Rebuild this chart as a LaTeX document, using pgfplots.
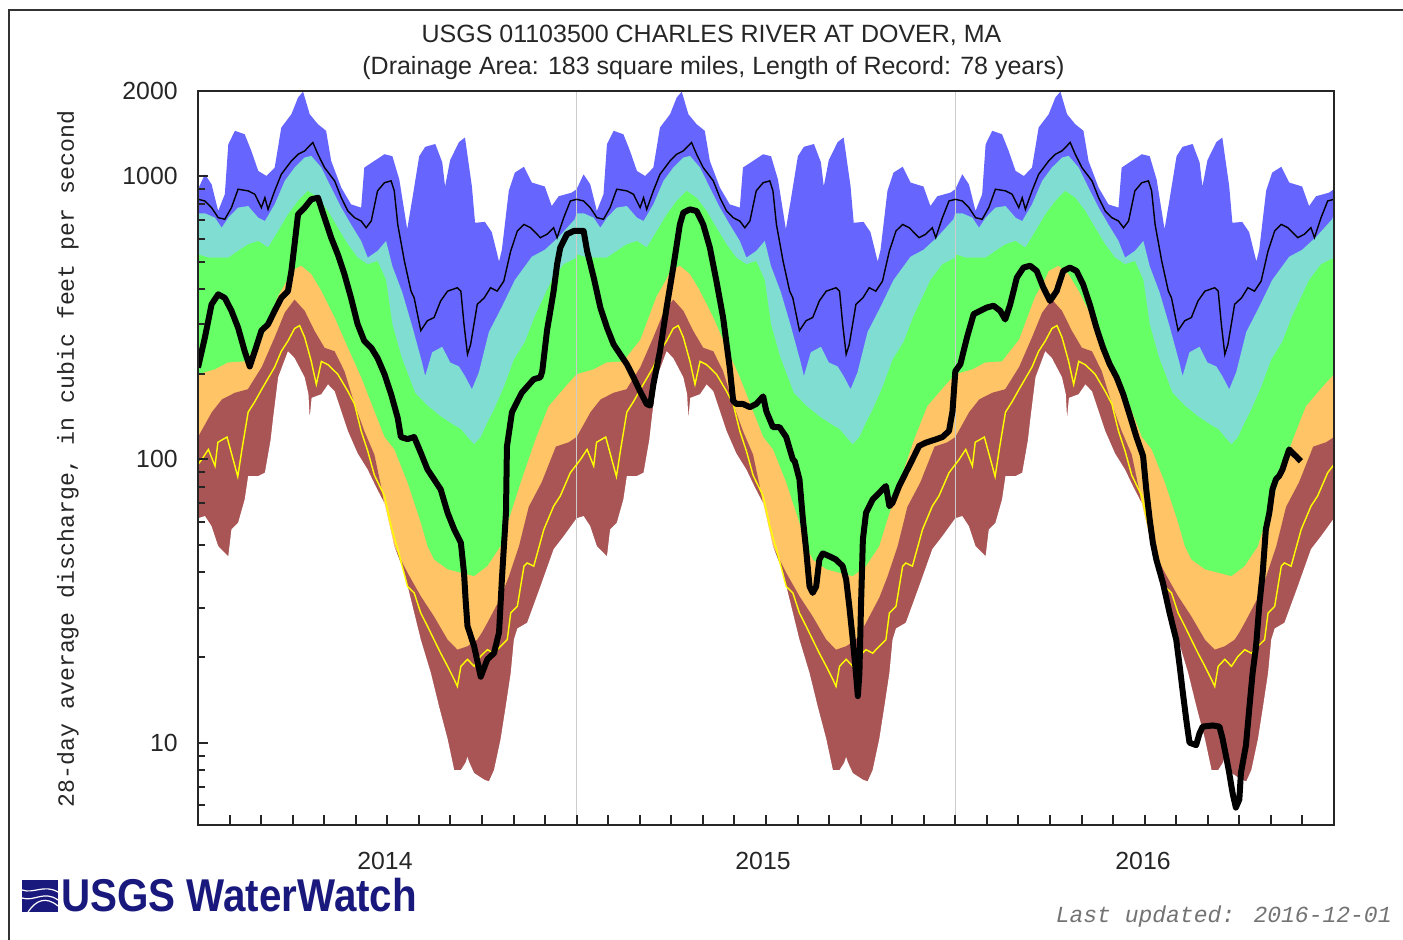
\documentclass[border=0pt]{standalone}
\usepackage{fontspec}
\setmainfont{Liberation Sans}
\newfontfamily\mono{Liberation Mono}
\usepackage{graphicx}
\usepackage{pgfplots}
\usepackage{pgfplotstable}
\pgfplotsset{compat=1.18}

\definecolor{cmax}{RGB}{102,102,255}
\definecolor{c90}{RGB}{128,221,210}
\definecolor{c75}{RGB}{102,255,102}
\definecolor{c25}{RGB}{255,196,102}
\definecolor{c10}{RGB}{170,85,85}
\definecolor{yel}{RGB}{255,255,0}
\definecolor{navy}{RGB}{25,25,125}

% daily statistics, one year (m = month of year), repeated each year
\pgfplotstableread{
m v
0.00 900
0.22 1016
0.43 937
0.64 754
0.85 864
0.96 1297
1.17 1447
1.48 1407
1.69 1229
1.91 1044
2.17 1002
2.43 1073
2.64 1486
2.96 1656
3.17 1897
3.33 1990
3.54 1656
3.80 1527
4.06 1447
4.22 1133
4.54 912
4.85 796
5.17 775
5.27 1073
5.59 1133
5.91 1196
6.16 1177
6.38 973
6.63 650
6.79 830
7.01 1177
7.20 1270
7.52 1300
7.74 1120
7.83 920
7.99 1140
8.27 1320
8.46 1370
8.68 920
8.78 685
9.09 690
9.31 635
9.54 500
9.63 550
9.85 890
10.04 1030
10.33 1080
10.58 950
10.99 920
11.21 785
11.43 850
11.84 875
12.00 900
}\tmax

\pgfplotstableread{
m v
0.00 740
0.22 740
0.54 714
0.75 658
0.96 714
1.27 775
1.59 785
1.91 714
2.12 695
2.43 796
2.75 963
3.06 1073
3.38 1164
3.59 1180
3.91 1073
4.22 912
4.54 775
4.85 676
5.17 591
5.38 516
5.69 545
5.96 591
6.16 481
6.47 390
6.79 295
7.10 220
7.20 197
7.42 239
7.74 250
7.99 220
8.27 213
8.46 197
8.68 177
8.90 203
9.22 282
9.63 346
10.04 430
10.58 520
10.99 550
11.43 610
11.94 705
12.00 740
}\tninety

\pgfplotstableread{
m v
0.00 530
0.33 516
0.64 516
0.96 516
1.27 545
1.59 575
1.91 591
2.22 560
2.54 641
2.85 733
3.17 818
3.48 888
3.80 840
4.12 754
4.43 658
4.75 575
5.06 516
5.38 489
5.69 502
5.96 430
6.16 300
6.45 230
6.88 172
7.27 155
7.69 142
8.12 132
8.33 128
8.54 120
8.75 113
8.96 120
9.17 135
9.38 150
9.69 180
10.01 225
10.36 260
10.67 320
11.21 430
11.59 489
12.00 516
}\tsevfive

\pgfplotstableread{
m v
0.00 200
0.54 208
0.95 220
1.48 222
2.02 265
2.53 376
2.84 432
2.96 463
3.27 483
3.59 451
3.91 393
4.33 317
4.75 248
5.17 195
5.59 148
5.91 120
6.22 108.5
6.64 82.8
7.06 59.7
7.27 49.4
7.48 44.3
7.91 40.9
8.33 39.8
8.75 38.7
9.17 42.0
9.59 49.4
9.85 61.4
10.26 85
10.70 118
11.11 154
11.65 181
12.00 200
}\ttwofive

\pgfplotstableread{
m v
0.00 120
0.44 147
0.76 163
1.17 172
1.58 177
2.02 212
2.43 270
2.75 330
3.06 367
3.38 335
3.69 285
4.01 248
4.33 241
4.64 205
4.96 157
5.27 126
5.59 104
5.80 80.6
6.01 59.7
6.22 49.4
6.43 44.3
6.64 39.8
7.06 32.9
7.48 27.9
7.91 23.1
8.22 21.3
8.54 21.9
8.85 23.1
9.00 24.5
9.17 26.5
9.59 32.5
9.85 38.6
10.17 49.3
10.48 68
10.89 83
11.34 111
11.75 115
12.00 120
}\tten

\pgfplotstableread{
m v
0.00 62
0.22 63.1
0.43 58.1
0.64 49.4
0.96 45.5
1.06 56.6
1.27 59.7
1.48 72.2
1.59 87.4
1.91 87.4
2.12 89.8
2.30 117
2.38 140
2.54 195
2.85 241
3.06 228
3.38 195
3.50 170
3.54 140
3.60 165
3.91 170
4.12 184
4.33 174
4.75 126
5.06 105
5.38 92
5.64 80
5.91 70
6.22 49.4
6.54 39.8
6.80 30.3
7.06 23.1
7.38 17.6
7.64 13.4
7.91 10.3
8.12 8.0
8.33 8.0
8.48 8.5
8.54 8.9
8.60 8.5
8.75 7.81
9.07 7.4
9.22 7.3
9.38 8.0
9.59 10.3
9.75 13.4
9.91 17.6
10.01 23.1
10.12 25.3
10.43 26.5
10.85 35.6
11.27 48.2
11.59 53.6
12.00 62
}\tmin

\pgfplotstableread{
m v
0.00 829
0.22 818
0.43 775
0.64 714
0.85 705
1.06 775
1.27 900
1.59 888
1.80 864
2.01 775
2.12 840
2.22 764
2.43 888
2.64 1016
2.96 1133
3.17 1196
3.38 1229
3.64 1316
3.80 1196
4.01 1073
4.33 963
4.54 840
4.75 754
4.96 714
5.17 695
5.33 658
5.49 695
5.69 888
5.91 949
6.12 963
6.22 888
6.33 676
6.54 502
6.75 393
6.85 372
7.06 285
7.27 309
7.48 317
7.69 363
7.91 393
8.22 404
8.33 393
8.43 300
8.54 235
8.64 255
8.85 353
9.07 372
9.27 404
9.48 393
9.69 426
9.91 545
10.12 641
10.33 676
10.54 658
10.85 607
11.06 624
11.27 658
11.38 607
11.59 714
11.80 818
12.00 829
}\tmean

\pgfplotstableread{
m v
0.00 96
0.12 100
0.33 108.5
0.54 94.8
0.63 115
0.92 120
1.17 94.8
1.26 87
1.39 108
1.59 147
1.80 160
2.02 177
2.43 212
2.64 241
2.85 262
3.06 290
3.22 297
3.38 270
3.59 222
3.75 184
3.91 222
4.12 216
4.43 200
4.75 174
4.96 157
5.17 126
5.38 107
5.59 88
5.91 74.3
6.12 58.1
6.33 48.2
6.64 35.6
6.85 33.8
7.06 28.7
7.27 25.8
7.48 23.1
7.69 20.7
7.91 18.6
8.12 16.7
8.22 15.8
8.33 18.6
8.54 19.7
8.75 18.6
8.96 20.2
9.17 21.3
9.38 20.7
9.59 21.9
9.80 23.1
9.91 28.7
10.12 30.3
10.33 42.0
10.43 43.1
10.64 42.0
10.96 56.6
11.27 68.4
11.48 74.3
11.80 89.8
12.00 96
}\tyel

% 28-day average discharge, months since 2014-01-01
\pgfplotstableread{
m v
0.00 211
0.22 270
0.43 353
0.64 383
0.85 372
1.06 335
1.27 292
1.48 241
1.64 213
1.80 241
2.01 285
2.22 300
2.43 335
2.64 372
2.85 393
2.96 463
3.06 575
3.17 733
3.38 775
3.59 829
3.80 840
4.01 714
4.22 607
4.43 530
4.64 451
4.85 372
5.06 300
5.27 262
5.49 248
5.69 228
5.91 200
6.12 170
6.33 140
6.43 120
6.64 118
6.85 120
7.06 105.6
7.27 92.3
7.48 85.1
7.69 78.4
7.91 64.8
8.12 56.6
8.33 50.8
8.43 39.8
8.48 32.0
8.54 25.8
8.75 21.9
8.96 17.1
9.17 19.7
9.38 20.7
9.54 24.5
9.63 37.7
9.76 65
9.79 111
9.95 147
10.26 172
10.64 192
10.85 195
10.91 205
11.06 285
11.27 393
11.38 489
11.48 560
11.69 624
11.91 641
12.22 641
12.33 545
12.54 439
12.75 344
12.96 292
13.17 255
13.38 235
13.59 217
13.80 195
14.01 174
14.22 157
14.33 155
14.43 184
14.64 241
14.85 344
15.06 476
15.27 676
15.38 744
15.59 764
15.80 754
16.01 676
16.22 560
16.43 426
16.64 317
16.85 211
16.96 161
17.06 157
17.27 157
17.49 153
17.69 157
17.91 167
18.01 148
18.22 130
18.43 130
18.64 120
18.85 100
18.91 98.6
19.06 85.1
19.17 61.3
19.27 48.2
19.38 35.6
19.48 33.8
19.59 35.6
19.69 44.3
19.80 46.6
20.01 45.5
20.22 44.3
20.43 42.0
20.54 37.7
20.64 30.3
20.75 23.1
20.85 17.6
20.91 14.6
20.96 17.6
21.01 30.3
21.07 52.2
21.17 64.8
21.38 72.2
21.59 76.3
21.80 80.6
21.91 68.4
22.01 70.3
22.22 80.6
22.43 89.8
22.64 100
22.85 111.6
23.06 114.6
23.38 117.7
23.59 120
23.80 126
23.91 148
24.00 205
24.16 217
24.37 270
24.58 326
24.79 335
25.00 344
25.21 349
25.42 335
25.58 312
25.74 353
25.95 439
26.16 476
26.37 483
26.58 463
26.79 404
27.00 363
27.21 393
27.42 463
27.63 476
27.84 463
28.05 415
28.26 353
28.47 292
28.68 248
28.89 217
29.11 195
29.32 170
29.53 143
29.74 120
29.95 102.8
30.05 78.4
30.16 61.3
30.26 50.8
30.37 44.3
30.58 36.6
30.79 28.7
31.00 23.1
31.11 18.6
31.21 15.0
31.32 12.0
31.42 10.0
31.63 9.8
31.74 10.8
31.84 11.4
32.16 11.5
32.37 11.4
32.47 10.3
32.58 8.95
32.68 7.81
32.79 6.6
32.89 5.9
33.00 6.3
33.05 7.81
33.21 9.8
33.32 13.4
33.42 17.6
33.53 21.9
33.63 30.3
33.74 39.8
33.84 56.6
33.95 64.8
34.05 78.4
34.16 85.1
34.26 87.4
34.37 92.3
34.47 100
34.58 108.5
34.68 105.6
34.79 102.8
34.95 98.6
}\flow

\begin{document}
\begin{tikzpicture}
\path[use as bounding box] (0,0) rectangle (701.5pt,-470pt);
\draw[line width=1pt, black!80] (4.5pt,-480pt) -- (4.5pt,-5pt) -- (710pt,-5pt);

\node[anchor=base, inner sep=0pt, text=black!85, font=\fontsize{12.5}{14}\selectfont]
  at (355.75pt,-21.5pt) {USGS 01103500 CHARLES RIVER AT DOVER, MA};
\node[anchor=base, inner sep=0pt, text=black!85, font=\fontsize{12.5}{14}\selectfont]
  at (356.75pt,-37.5pt) {(Drainage Area: 183 square miles, Length of Record: 78 years)};
\node[rotate=90, inner sep=0pt, text=black!85, font=\mono\fontsize{11.6}{13}\selectfont]
  at (34pt,-229.5pt) {28-day average discharge, in cubic feet per second};

\begin{axis}[
    at={(99pt,-412.5pt)}, anchor=south west,
    width=568pt, height=367pt, scale only axis,
    xmin=0, xmax=36,
    ymode=log, ymin=5.12, ymax=2000,
    axis on top,
    axis line style={line width=1pt, black!85},
    xtick={0,1,...,36}, xticklabels={},
    xtick pos=bottom, ytick pos=left,
    ytick={10,100,1000,2000},
    yticklabels={\mbox{10},\mbox{100},\mbox{1000},\mbox{2000}},
    minor ytick={6,7,8,9,20,30,40,50,60,70,80,90,200,300,400,500,600,700,800,900},
    major tick length=5pt, minor tick length=3.5pt,
    tick style={line width=1pt, black!85},
    yticklabel style={font=\fontsize{12.4}{14}\selectfont, inner sep=0pt, xshift=-10pt, text=black!85},
]
\pgfplotsinvokeforeach{0,1,2}{
  \addplot[draw=none, fill=cmax] table[x expr=\thisrow{m}+12*#1, y=v] {\tmax} \closedcycle;
  \addplot[draw=none, fill=c90] table[x expr=\thisrow{m}+12*#1, y=v] {\tninety} \closedcycle;
  \addplot[draw=none, fill=c75] table[x expr=\thisrow{m}+12*#1, y=v] {\tsevfive} \closedcycle;
  \addplot[draw=none, fill=c25] table[x expr=\thisrow{m}+12*#1, y=v] {\ttwofive} \closedcycle;
  \addplot[draw=none, fill=c10] table[x expr=\thisrow{m}+12*#1, y=v] {\tten} \closedcycle;
  \addplot[draw=none, fill=white] table[x expr=\thisrow{m}+12*#1, y=v] {\tmin} \closedcycle;
}
\draw[black!20, line width=0.75pt] (axis cs:12,5.12) -- (axis cs:12,2000);
\draw[black!20, line width=0.75pt] (axis cs:24,5.12) -- (axis cs:24,2000);
\pgfplotsinvokeforeach{0,1,2}{
  \addplot[yel, line width=0.7pt] table[x expr=\thisrow{m}+12*#1, y=v] {\tyel};
  \addplot[black, line width=0.7pt] table[x expr=\thisrow{m}+12*#1, y=v] {\tmean};
}
\addplot[black, line width=3pt, line join=round] table[x=m, y=v] {\flow};
\end{axis}

\node[anchor=base, inner sep=0pt, text=black!85, font=\fontsize{12.4}{14}\selectfont] at (192.5pt,-434.5pt) {2014};
\node[anchor=base, inner sep=0pt, text=black!85, font=\fontsize{12.4}{14}\selectfont] at (381.5pt,-434.5pt) {2015};
\node[anchor=base, inner sep=0pt, text=black!85, font=\fontsize{12.4}{14}\selectfont] at (571.5pt,-434.5pt) {2016};

% logo
\fill[navy] (11pt,-440pt) rectangle (29pt,-456pt);
\draw[white, line width=0.6pt] (11pt,-445pt) .. controls (17pt,-447pt) and (22pt,-442pt) .. (29pt,-446pt);
\draw[white, line width=0.6pt] (11pt,-449pt) .. controls (17pt,-451pt) and (22pt,-445pt) .. (29pt,-450pt);
\draw[white, line width=0.6pt] (14pt,-456pt) .. controls (18pt,-450pt) and (23pt,-448pt) .. (29pt,-453pt);
\node[anchor=base west, inner sep=0pt, text=navy, font=\bfseries\fontsize{23}{24}\selectfont]
  at (30.5pt,-455.5pt) {\scalebox{0.877}[1]{USGS WaterWatch}};
\node[anchor=base east, inner sep=0pt, text=black!55, font=\mono\itshape\fontsize{11.5}{13}\selectfont]
  at (696pt,-461pt) {Last updated: 2016-12-01};
\end{tikzpicture}
\end{document}
